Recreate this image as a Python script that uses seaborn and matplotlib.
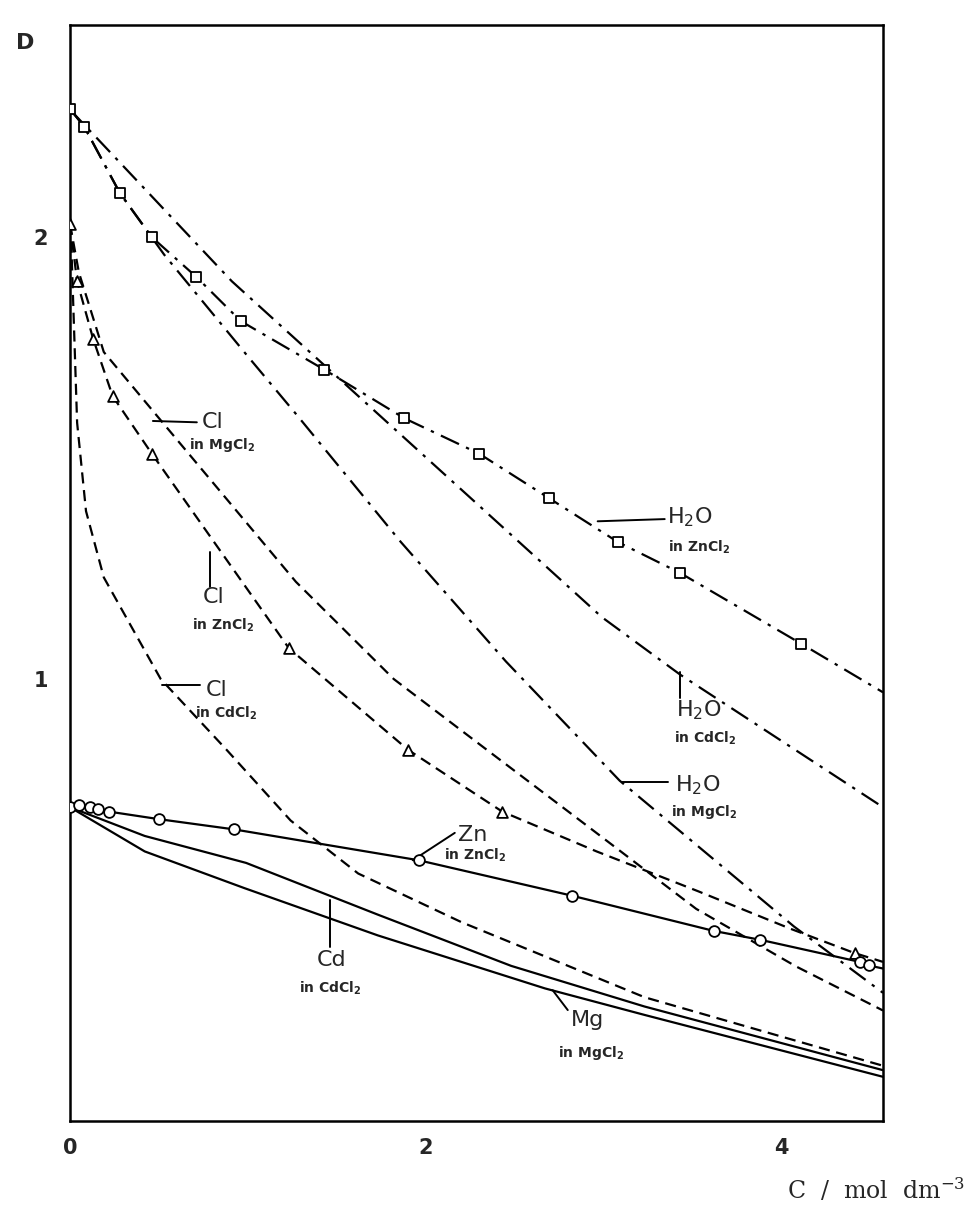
import numpy as np
import pandas as pd
import seaborn as sns
import matplotlib.pyplot as plt

# self-diffusion coefficient D vs concentration C
# H2O in ZnCl2 (open squares, dash-dot)
h2o_zn_c = [0.00, 0.08, 0.28, 0.46, 0.71, 0.96, 1.43, 1.88, 2.30, 2.69, 3.08, 3.43, 4.11]
h2o_zn_d = [2.29, 2.25, 2.10, 2.00, 1.91, 1.81, 1.70, 1.59, 1.51, 1.41, 1.31, 1.24, 1.08]
h2o_zn_line_c = h2o_zn_c + [4.57]
h2o_zn_line_d = h2o_zn_d + [0.97]

# H2O in CdCl2 (dash-dot)
h2o_cd_c = [0.00, 0.02, 0.91, 1.43, 2.99, 3.43, 4.57]
h2o_cd_d = [2.29, 2.28, 1.90, 1.71, 1.14, 1.01, 0.71]

# H2O in MgCl2 (dash-dot)
h2o_mg_c = [0.00, 0.08, 0.28, 0.53, 1.00, 1.27, 1.86, 2.45, 3.09, 4.07, 4.57]
h2o_mg_d = [2.29, 2.25, 2.10, 1.96, 1.73, 1.60, 1.31, 1.04, 0.77, 0.44, 0.29]

# Cl in ZnCl2 (open triangles, dashed)
cl_zn_c = [0.00, 0.04, 0.13, 0.24, 0.46, 1.23, 1.90, 2.43, 4.41]
cl_zn_d = [2.03, 1.90, 1.77, 1.64, 1.51, 1.07, 0.84, 0.70, 0.38]
cl_zn_line_c = [0.00, 0.04, 0.13, 0.24, 0.46, 1.23, 1.90, 2.43, 2.96, 3.53, 4.05, 4.41, 4.57]
cl_zn_line_d = [2.03, 1.90, 1.77, 1.64, 1.51, 1.07, 0.84, 0.70, 0.61, 0.52, 0.435, 0.38, 0.36]

# Cl in MgCl2 (dashed)
cl_mg_c = [0.00, 0.05, 0.19, 0.48, 1.27, 1.82, 2.31, 2.90, 3.52, 4.08, 4.57]
cl_mg_d = [2.03, 1.92, 1.74, 1.60, 1.22, 1.00, 0.85, 0.67, 0.48, 0.35, 0.25]

# Cl in CdCl2 (dashed)
cl_cd_c = [0.00, 0.01, 0.04, 0.09, 0.19, 0.51, 0.88, 1.24, 1.62, 2.20, 3.23, 4.57]
cl_cd_d = [2.03, 1.95, 1.58, 1.38, 1.23, 1.00, 0.84, 0.68, 0.56, 0.45, 0.28, 0.125]

# Zn in ZnCl2 (open circles, solid)
zn_c = [0.00, 0.05, 0.11, 0.16, 0.22, 0.50, 0.92, 1.96, 2.82, 3.62, 3.88, 4.44, 4.49]
zn_d = [0.71, 0.715, 0.71, 0.705, 0.70, 0.683, 0.66, 0.59, 0.51, 0.43, 0.41, 0.36, 0.352]
zn_line_c = zn_c + [4.57]
zn_line_d = zn_d + [0.345]

# Cd in CdCl2 and Mg in MgCl2 (solid)
cd_c = [0.00, 0.42, 0.99, 1.73, 2.48, 3.23, 4.57]
cd_d = [0.71, 0.645, 0.584, 0.467, 0.351, 0.259, 0.115]
mg_c = [0.00, 0.42, 0.98, 1.73, 2.67, 3.23, 4.57]
mg_d = [0.71, 0.61, 0.527, 0.42, 0.30, 0.24, 0.10]

sns.set_style("white")
plt.rcParams['font.family'] = ['DejaVu Sans']
plt.rcParams['mathtext.default'] = 'regular'

fig = plt.figure(figsize=(9.7, 12.11), dpi=100)
ax = fig.add_axes([70/970, 90/1211, 813/970, 1096/1211])

dashdot = (0, (9, 3.5, 1.5, 3.5))
dashed = (0, (5, 3))
lw = 1.6

for c, d, ls in [(h2o_zn_line_c, h2o_zn_line_d, dashdot),
                 (h2o_cd_c, h2o_cd_d, dashdot),
                 (h2o_mg_c, h2o_mg_d, dashdot),
                 (cl_zn_line_c, cl_zn_line_d, dashed),
                 (cl_mg_c, cl_mg_d, dashed),
                 (cl_cd_c, cl_cd_d, dashed),
                 (zn_line_c, zn_line_d, '-'),
                 (cd_c, cd_d, '-'),
                 (mg_c, mg_d, '-')]:
    sns.lineplot(x=c, y=d, ax=ax, color='black', linewidth=lw, linestyle=ls,
                 sort=False, estimator=None)

sns.scatterplot(x=h2o_zn_c, y=h2o_zn_d, ax=ax, marker='s', s=55, color='white',
                edgecolor='black', linewidth=1.3, zorder=4)
sns.scatterplot(x=cl_zn_c, y=cl_zn_d, ax=ax, marker='^', s=60, color='white',
                edgecolor='black', linewidth=1.3, zorder=4)
sns.scatterplot(x=zn_c, y=zn_d, ax=ax, marker='o', s=60, color='white',
                edgecolor='black', linewidth=1.3, zorder=4)

ax.set(xlim=(0, 4.57), ylim=(0, 2.48))
ax.set_xlabel('')
ax.set_ylabel('')

ax.set_xticks([0, 1, 2, 3, 4])
ax.set_xticklabels(['0', '', '2', '', '4'])
ax.set_xticks([0.5], minor=True)
ax.set_yticks([1, 2])
ax.set_yticklabels(['1', '2'])
ax.set_yticks([0.5, 1.5], minor=True)
ax.tick_params(which='major', direction='in', length=12, width=1.6,
               labelsize=15, pad=12)
ax.tick_params(axis='y', which='major', pad=16)
ax.tick_params(which='minor', direction='in', length=6, width=1.6)
ax.tick_params(axis='x', which='minor', length=4)
for t in ax.get_xticklabels() + ax.get_yticklabels():
    t.set_fontweight('bold')
for s in ax.spines.values():
    s.set_linewidth(1.8)
    s.set_color('black')

fig.text(25/970, 1 - 43/1211, 'D', fontsize=16, fontweight='bold',
         ha='center', va='center')
fig.text(0.995, 1 - 1190/1211, r'C  /  mol  dm$^{-3}$', fontsize=17,
         family='DejaVu Serif', ha='right', va='center')

# curve labels: (big, small, leader start, leader end, big pos, small pos)
labels = [
    (r'H$_2$O', r'in ZnCl$_2$', (2.966, 1.357), (3.343, 1.362), (3.483, 1.367), (3.534, 1.299)),
    (r'H$_2$O', r'in CdCl$_2$', (3.427, 1.015), (3.427, 0.957), (3.534, 0.930), (3.573, 0.867)),
    (r'H$_2$O', r'in MgCl$_2$', (3.101, 0.766), (3.360, 0.766), (3.528, 0.760), (3.562, 0.699)),
    ('Cl', r'in MgCl$_2$', (0.466, 1.584), (0.713, 1.581), (0.803, 1.581), (0.854, 1.529)),
    ('Cl', r'in ZnCl$_2$', (0.787, 1.287), (0.787, 1.208), (0.809, 1.186), (0.860, 1.122)),
    ('Cl', r'in CdCl$_2$', (0.517, 0.986), (0.730, 0.986), (0.826, 0.975), (0.876, 0.923)),
    ('Zn', r'in ZnCl$_2$', (1.927, 0.590), (2.163, 0.652), (2.264, 0.647), (2.275, 0.602)),
    ('Cd', r'in CdCl$_2$', (1.461, 0.500), (1.461, 0.394), (1.472, 0.364), (1.461, 0.301)),
    ('Mg', r'in MgCl$_2$', (2.713, 0.296), (2.798, 0.251), (2.910, 0.229), (2.927, 0.154)),
]
for big, small, p0, p1, pb, ps in labels:
    ax.plot([p0[0], p1[0]], [p0[1], p1[1]], color='black', linewidth=1.4)
    ax.text(pb[0], pb[1], big, fontsize=16, ha='center', va='center')
    ax.text(ps[0], ps[1], small, fontsize=10, fontweight='bold',
            ha='center', va='center')

plt.savefig("out.png", dpi=100)
